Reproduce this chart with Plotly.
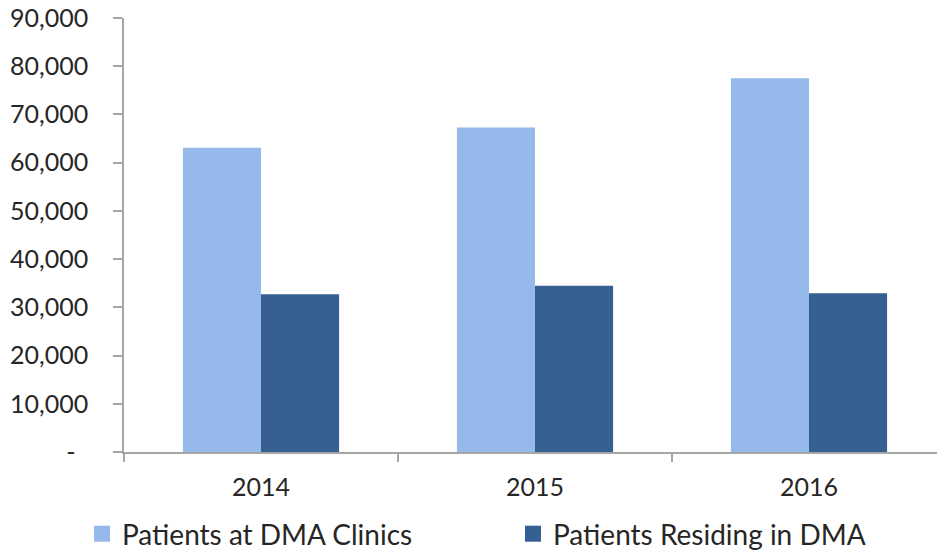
import plotly.graph_objects as go

years = ["2014", "2015", "2016"]
clinics = [63100, 67300, 77500]
residing = [32700, 34500, 32900]
series_names = ["Patients at DMA Clinics", "Patients Residing in DMA"]
colors = ["#95B9EB", "#366092"]
y_tickvals = [0, 10000, 20000, 30000, 40000, 50000, 60000, 70000, 80000, 90000]
y_ticktext = ["-\u00a0\u00a0"] + [f"{v:,}" for v in y_tickvals[1:]]

FONT = "Lato"
TXT = "#262626"
AX = "#A6A6A6"

fig = go.Figure()
for i, (name, vals) in enumerate(zip(series_names, [clinics, residing])):
    fig.add_trace(go.Bar(x=years, y=vals, name=name, marker_color=colors[i],
                         marker_line_width=0, showlegend=False))
    # legend entries with larger square symbols
    fig.add_trace(go.Scatter(x=[None], y=[None], mode="markers", name=name,
                             marker=dict(symbol="square", size=16, color=colors[i]),
                             legend="legend" if i == 0 else "legend2"))

fig.update_layout(
    width=937, height=550,
    margin=dict(l=124, r=0, t=18, b=98),
    plot_bgcolor="white", paper_bgcolor="white",
    font=dict(family=FONT, size=25, color=TXT),
    barmode="group", bargap=0.43, bargroupgap=0,
    legend=dict(orientation="h", x=82 / 937, xanchor="left", xref="container", yref="container",
                y=1 - 534 / 550, yanchor="middle", font=dict(size=28, color=TXT),
                bgcolor="rgba(0,0,0,0)", itemwidth=30),
    legend2=dict(orientation="h", x=513 / 937, xanchor="left", xref="container", yref="container",
                 y=1 - 534 / 550, yanchor="middle", font=dict(size=28, color=TXT),
                 bgcolor="rgba(0,0,0,0)", itemwidth=30),
)
fig.update_xaxes(type="category", range=[-0.5, -0.5 + 813 / 274],
                 showline=True, linecolor=AX, linewidth=1.5,
                 ticks="outside", tickson="boundaries", ticklen=8, tickcolor=AX, tickwidth=1.5,
                 showgrid=False, zeroline=False, ticklabelstandoff=12,
                 tickfont=dict(family=FONT, size=25, color=TXT))
fig.update_yaxes(range=[0, 90000], tickvals=y_tickvals, ticktext=y_ticktext,
                 showline=True, linecolor=AX, linewidth=1.5,
                 ticks="outside", ticklen=9, tickcolor=AX, tickwidth=1.5,
                 showgrid=False, zeroline=False, ticklabelstandoff=20,
                 tickfont=dict(family=FONT, size=25, color=TXT))

fig.write_html("out.html")
